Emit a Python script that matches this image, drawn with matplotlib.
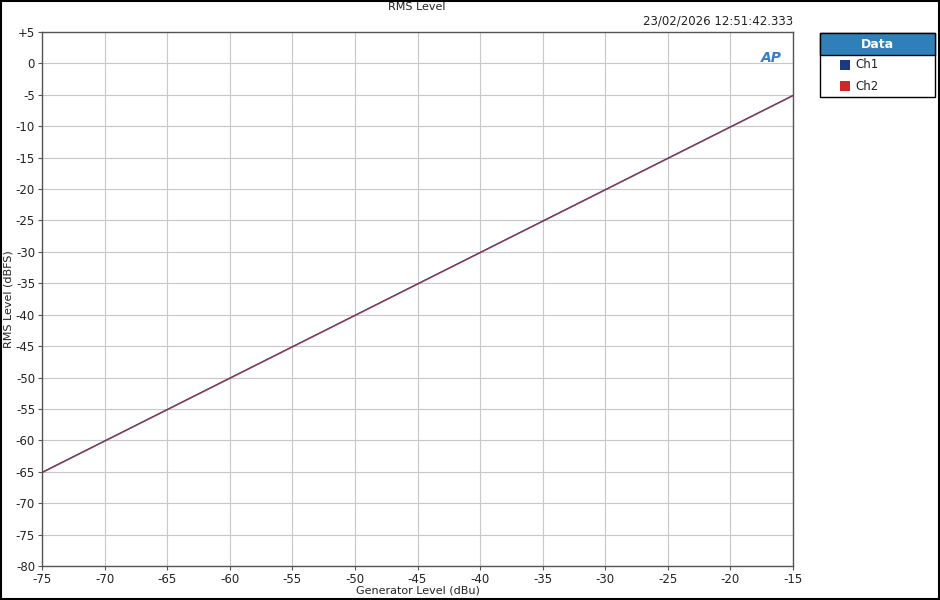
import numpy as np
import matplotlib.pyplot as plt
from matplotlib.patches import Rectangle

# generator sweep (dBu) and measured RMS level (dBFS)
gen_level = [-75, -70, -65, -60, -55, -50, -45, -40, -35, -30, -25, -20, -15]
ch1 = [-65.1, -60.1, -55.1, -50.1, -45.1, -40.1, -35.1, -30.1, -25.1, -20.1, -15.1, -10.1, -5.1]
ch2 = [-65.15, -60.15, -55.15, -50.15, -45.15, -40.15, -35.15, -30.15, -25.15, -20.15, -15.15, -10.15, -5.15]

xticks = list(range(-75, -14, 5))
yticks = list(range(-80, 6, 5))
ylabels = ['+5' if t == 5 else str(t) for t in yticks]

plt.rcParams['font.family'] = ['DejaVu Sans']
plt.rcParams['axes.unicode_minus'] = False
fig = plt.figure(figsize=(9.4, 6), dpi=100)
ax = fig.add_axes([42/940, 34/600, 751/940, 534/600])

ax.plot(gen_level, ch1, color='#1f3a7a', lw=1.0)
ax.plot(gen_level, ch2, color='#b03a48', lw=1.0, alpha=0.7)

ax.set_xlim(-75, -15)
ax.set_ylim(-80, 5)
ax.set_xticks(xticks)
ax.set_yticks(yticks)
ax.set_yticklabels(ylabels)
ax.grid(color='#c8c8c8', lw=0.8)
ax.tick_params(labelsize=8.5, length=3, pad=2, color='#555555', labelcolor='#222222')
for s in ax.spines.values():
    s.set_color('#555555')
    s.set_linewidth(1.0)

ax.set_xlabel('Generator Level (dBu)', fontsize=8, labelpad=0, color='#222222')
ax.set_ylabel('RMS Level (dBFS)', fontsize=8, labelpad=2, color='#222222')
fig.text(417/940, 1 - 7/600, 'RMS Level', ha='center', va='center', fontsize=8, color='#222222')
fig.text(793/940, 1 - 21/600, '23/02/2026 12:51:42.333', ha='right', va='center',
         fontsize=8.5, color='#222222')
ax.text(0.985, 0.965, 'AP', transform=ax.transAxes, ha='right', va='top',
        fontsize=10, style='italic', fontweight='bold', color='#3a7cc0')

# legend panel
lx0, lx1 = 820/940, 935/940
ly0, ly1 = 1 - 97/600, 1 - 33/600
fig.patches.append(Rectangle((lx0, ly0), lx1 - lx0, ly1 - ly0, transform=fig.transFigure,
                             facecolor='white', edgecolor='black', lw=1.0))
fig.patches.append(Rectangle((lx0, 1 - 55/600), lx1 - lx0, 22/600, transform=fig.transFigure,
                             facecolor='#2f7fb8', edgecolor='black', lw=1.0))
fig.text((lx0 + lx1) / 2, 1 - 44/600, 'Data', ha='center', va='center', fontsize=9,
         fontweight='bold', color='white')
for i, (name, col) in enumerate([('Ch1', '#1a3a80'), ('Ch2', '#cc2a2a')]):
    yc = 1 - (65 + 21 * i)/600
    fig.patches.append(Rectangle((840/940, yc - 5/600), 10/940, 10/600, transform=fig.transFigure,
                                 facecolor=col, edgecolor='none'))
    fig.text(855/940, yc, name, ha='left', va='center', fontsize=8.5, color='#222222')

# outer border
fig.patches.append(Rectangle((0.001, 0.001), 0.998, 0.998, transform=fig.transFigure,
                             facecolor='none', edgecolor='black', lw=1.5))

fig.savefig('out.png', dpi=100)
